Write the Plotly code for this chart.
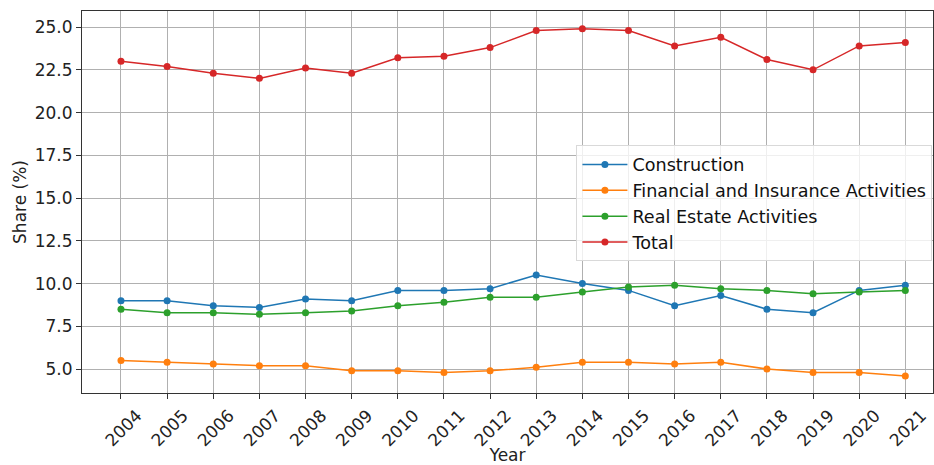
import plotly.graph_objects as go

years = list(range(2004, 2022))
construction = [9.0, 9.0, 8.7, 8.6, 9.1, 9.0, 9.6, 9.6, 9.7, 10.5, 10.0, 9.6, 8.7, 9.3, 8.5, 8.3, 9.6, 9.9]
financial = [5.5, 5.4, 5.3, 5.2, 5.2, 4.9, 4.9, 4.8, 4.9, 5.1, 5.4, 5.4, 5.3, 5.4, 5.0, 4.8, 4.8, 4.6]
real_estate = [8.5, 8.3, 8.3, 8.2, 8.3, 8.4, 8.7, 8.9, 9.2, 9.2, 9.5, 9.8, 9.9, 9.7, 9.6, 9.4, 9.5, 9.6]
total = [23.0, 22.7, 22.3, 22.0, 22.6, 22.3, 23.2, 23.3, 23.8, 24.8, 24.9, 24.8, 23.9, 24.4, 23.1, 22.5, 23.9, 24.1]

series = [
    ("Construction", construction, "#1f77b4"),
    ("Financial and Insurance Activities", financial, "#ff7f0e"),
    ("Real Estate Activities", real_estate, "#2ca02c"),
    ("Total", total, "#d62728"),
]
y_ticks = [5.0, 7.5, 10.0, 12.5, 15.0, 17.5, 20.0, 22.5, 25.0]

fig = go.Figure()
for name, vals, color in series:
    fig.add_trace(go.Scatter(
        x=years, y=vals, name=name, mode="lines+markers",
        line=dict(color=color, width=1.5),
        marker=dict(color=color, size=7),
    ))

font = "DejaVu Sans, Arial, sans-serif"
fig.update_layout(
    width=934, height=465,
    margin=dict(l=82, r=1, t=11, b=72),
    paper_bgcolor="white", plot_bgcolor="white",
    font=dict(family=font, size=17, color="#222"),
    showlegend=True,
    legend=dict(
        x=0.581, y=0.648, xanchor="left", yanchor="top",
        bgcolor="rgba(255,255,255,0.8)", bordercolor="#d9d9d9", borderwidth=1,
        font=dict(size=17.6, color="#111"),
        itemwidth=45,
    ),
    xaxis=dict(
        title=dict(text="Year", font=dict(size=17), standoff=2),
        automargin=False,
        range=[2003.155, 2021.6],
        tickvals=years, ticktext=[str(y) for y in years], tickangle=-45,
        ticklabelshift=16,
        showgrid=True, gridcolor="#b0b0b0", gridwidth=1,
        showline=True, linecolor="#333", linewidth=1, mirror=True,
        ticks="outside", ticklen=5, tickcolor="#333",
        tickfont=dict(size=17), zeroline=False,
    ),
    yaxis=dict(
        title=dict(text="Share (%)", font=dict(size=17), standoff=3),
        automargin=False,
        range=[3.6, 25.94],
        tickvals=y_ticks, ticktext=[f"{v:.1f}" for v in y_ticks],
        showgrid=True, gridcolor="#b0b0b0", gridwidth=1,
        showline=True, linecolor="#333", linewidth=1, mirror=True,
        ticks="outside", ticklen=5, tickcolor="#333",
        tickfont=dict(size=17), zeroline=False,
    ),
)
fig.write_html(
    "out.html",
    config={"displayModeBar": False},
    post_script="document.body.style.margin='0';document.body.style.overflow='hidden';",
)
